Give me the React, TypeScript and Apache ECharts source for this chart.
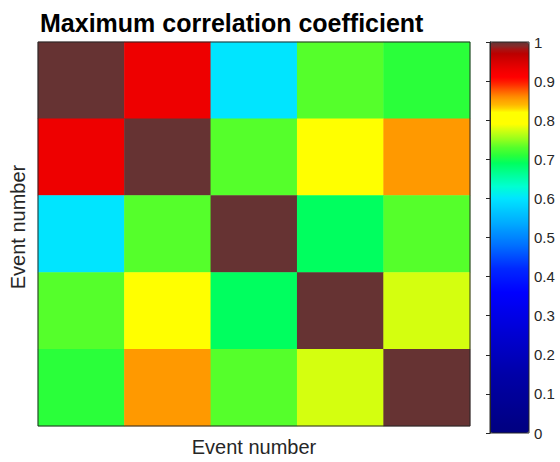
import React, { useEffect, useRef } from "react";
import * as echarts from "echarts";

// Event labels (axis categories, not displayed as tick labels)
const events = ["1", "2", "3", "4", "5"];

// Maximum correlation coefficient between each pair of events (row = y, col = x)
const row1 = [1.0, 0.93, 0.6, 0.73, 0.71];
const row2 = [0.93, 1.0, 0.73, 0.8, 0.855];
const row3 = [0.6, 0.73, 1.0, 0.69, 0.73];
const row4 = [0.73, 0.8, 0.69, 1.0, 0.775];
const row5 = [0.71, 0.855, 0.73, 0.775, 1.0];
const correlation = [row1, row2, row3, row4, row5];

// Colour bar range and tick spacing
const cMin = 0;
const cMax = 1;
const cInterval = 0.1;

// Jet-like colour map, stretched towards high correlation values
const colorStops: [number, string][] = [
  [0.0, "#00007f"],
  [0.15, "#0000a8"],
  [0.3, "#0000e6"],
  [0.36, "#0000ff"],
  [0.42, "#0028ff"],
  [0.48, "#0070ff"],
  [0.54, "#00aeff"],
  [0.6, "#00e5ff"],
  [0.63, "#00ffd2"],
  [0.66, "#00ff9a"],
  [0.69, "#00ff5f"],
  [0.71, "#2aff3a"],
  [0.73, "#55ff2b"],
  [0.755, "#a0ff1a"],
  [0.775, "#d4ff0f"],
  [0.79, "#ffff00"],
  [0.82, "#ffff00"],
  [0.835, "#ffc000"],
  [0.855, "#ff9900"],
  [0.875, "#ff6000"],
  [0.895, "#ff2000"],
  [0.91, "#ff0000"],
  [0.93, "#ee0000"],
  [0.955, "#d00000"],
  [0.975, "#b40000"],
  [0.985, "#a02222"],
  [0.995, "#663333"],
  [1.0, "#663333"],
];

function hexToRgb(h: string): number[] {
  const n = parseInt(h.slice(1), 16);
  return [(n >> 16) & 255, (n >> 8) & 255, n & 255];
}

function colorAt(v: number): string {
  for (let i = 1; i < colorStops.length; i++) {
    const [v1, c1] = colorStops[i];
    const [v0, c0] = colorStops[i - 1];
    if (v <= v1 + 1e-9) {
      const t = v1 === v0 ? 0 : (v - v0) / (v1 - v0);
      const a = hexToRgb(c0);
      const b = hexToRgb(c1);
      const rgb = a.map((x, k) => Math.round(x + (b[k] - x) * t));
      return `rgb(${rgb[0]},${rgb[1]},${rgb[2]})`;
    }
  }
  return colorStops[colorStops.length - 1][1];
}

// Sampled palette for the visual map (evenly spaced over [cMin, cMax])
const paletteSize = 201;
const palette = Array.from({ length: paletteSize }, (_, i) =>
  colorAt(cMin + ((cMax - cMin) * i) / (paletteSize - 1))
);

const FONT = "Liberation Sans, Arial, Helvetica, sans-serif";
const AXIS_GRAY = "#262626";

export default function App() {
  const ref = useRef<HTMLDivElement>(null);

  useEffect(() => {
    if (!ref.current) return;
    const chart = echarts.init(ref.current, undefined, { renderer: "svg" });

    const cells: number[][] = [];
    correlation.forEach((row, y) =>
      row.forEach((v, x) => cells.push([x, y, v]))
    );

    chart.setOption({
      animation: false,
      backgroundColor: "#ffffff",
      textStyle: { fontFamily: FONT },
      title: {
        text: "Maximum correlation coefficient",
        left: 40,
        top: 10,
        padding: 0,
        textStyle: {
          fontFamily: FONT,
          fontSize: 25,
          fontWeight: "bold",
          color: "#000000",
        },
      },
      grid: [
        {
          left: 35,
          top: 42,
          width: 435,
          height: 391,
          show: true,
          z: 10,
          backgroundColor: "transparent",
          borderColor: AXIS_GRAY,
          borderWidth: 1,
        },
        {
          left: 490,
          top: 42,
          width: 39,
          height: 391,
          show: true,
          z: 10,
          backgroundColor: "transparent",
          borderColor: AXIS_GRAY,
          borderWidth: 1,
        },
      ],
      xAxis: [
        {
          type: "category",
          gridIndex: 0,
          data: events,
          axisLine: { show: false },
          axisTick: { show: false },
          axisLabel: { show: false },
          splitLine: { show: false },
          name: "Event number",
          nameLocation: "middle",
          nameGap: 11,
          nameTextStyle: {
            fontFamily: FONT,
            fontSize: 20,
            color: AXIS_GRAY,
            verticalAlign: "top",
          },
        },
        {
          type: "value",
          gridIndex: 1,
          min: 0,
          max: 1,
          show: false,
        },
      ],
      yAxis: [
        {
          type: "category",
          gridIndex: 0,
          data: events,
          inverse: true,
          axisLine: { show: false },
          axisTick: { show: false },
          axisLabel: { show: false },
          splitLine: { show: false },
          name: "Event number",
          nameLocation: "middle",
          nameGap: 10,
          nameTextStyle: {
            fontFamily: FONT,
            fontSize: 20,
            color: AXIS_GRAY,
            padding: [0, 0, 0, 14],
          },
        },
        {
          type: "value",
          gridIndex: 1,
          position: "right",
          min: cMin,
          max: cMax,
          interval: cInterval,
          z: 10,
          axisLine: { show: true, lineStyle: { color: AXIS_GRAY, width: 1 } },
          axisTick: {
            show: true,
            inside: true,
            length: 4,
            lineStyle: { color: AXIS_GRAY, width: 1 },
          },
          axisLabel: {
            show: true,
            margin: 5,
            fontFamily: FONT,
            fontSize: 15,
            color: AXIS_GRAY,
          },
          splitLine: { show: false },
        },
      ],
      visualMap: {
        type: "continuous",
        show: true,
        min: cMin,
        max: cMax,
        dimension: 2,
        seriesIndex: 0,
        calculable: false,
        hoverLink: false,
        orient: "vertical",
        left: 490,
        top: 42,
        padding: 0,
        itemWidth: 39,
        itemHeight: 391,
        text: null,
        inRange: { color: palette },
      },
      series: [
        {
          type: "heatmap",
          xAxisIndex: 0,
          yAxisIndex: 0,
          data: cells,
          itemStyle: { borderWidth: 0 },
          emphasis: { disabled: true },
        },
      ],
    });

    return () => chart.dispose();
  }, []);

  return (
    <div
      ref={ref}
      style={{ position: "absolute", left: 0, top: 0, width: 560, height: 462 }}
    />
  );
}
